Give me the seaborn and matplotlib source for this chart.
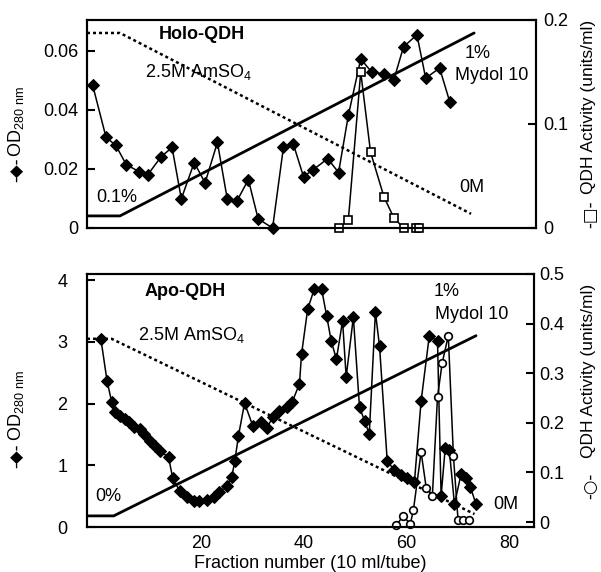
import matplotlib
matplotlib.use("Agg")
import matplotlib.pyplot as plt
import seaborn as sns

# Holo-QDH panel: OD280 (diamonds) and activity (squares)
holo_frac = [-1.2, 1.4, 3.3, 5.3, 7.8, 9.5, 12.1, 14.2, 16.0, 18.5,
             20.6, 23.0, 24.9, 26.8, 29.0, 30.9, 33.7, 35.8, 37.7, 39.7,
             41.6, 44.4, 46.5, 48.4, 50.8, 52.9, 55.3, 57.2, 59.1, 61.7,
             63.4, 66.1, 68.1]
holo_od = [0.0484, 0.0307, 0.0280, 0.0215, 0.0191, 0.0181, 0.0242, 0.0273, 0.0099, 0.0222,
           0.0153, 0.0290, 0.0099, 0.0092, 0.0164, 0.0031, 0.0, 0.0273, 0.0286, 0.0174,
           0.0198, 0.0235, 0.0188, 0.0382, 0.0573, 0.0529, 0.0522, 0.0501, 0.0614, 0.0655,
           0.0508, 0.0542, 0.0426]
holo_act_frac = [46.5, 48.4, 50.8, 52.7, 55.3, 57.2, 59.1, 61.5, 62.1]
holo_act = [0.0, 0.008, 0.150, 0.073, 0.030, 0.010, 0.0, 0.0, 0.0]

# gradients (top)
mydol_top_x = [-2.3, 4.1, 72.8]
mydol_top = [0.0041, 0.0041, 0.0661]
salt_top_x = [-2.3, 4.1, 72.2]
salt_top = [0.0661, 0.0661, 0.0048]

# Apo-QDH panel: OD280 (diamonds) and activity (circles)
apo_frac = [0.4, 1.6, 2.5, 3.1, 4.1, 5.1, 5.8, 6.8, 8.0, 8.9,
            9.9, 10.9, 11.9, 13.6, 14.4, 15.8, 17.1, 18.5, 19.6, 21.0,
            22.4, 23.5, 24.9, 25.9, 26.5, 27.2, 28.4, 30.0, 31.7, 32.7,
            33.9, 35.2, 36.6, 37.7, 39.1, 39.5, 40.7, 42.0, 43.4, 44.4,
            45.3, 46.3, 47.5, 48.2, 49.6, 50.8, 51.8, 52.7, 53.9, 54.7,
            56.2, 57.6, 58.8, 60.1, 61.5, 62.8, 64.4, 66.0, 66.7, 67.5,
            68.3, 69.3, 70.6, 71.6, 72.4, 73.5]
apo_od = [3.05, 2.37, 2.03, 1.86, 1.80, 1.75, 1.70, 1.62, 1.59, 1.51,
          1.39, 1.31, 1.23, 1.13, 0.79, 0.58, 0.49, 0.42, 0.42, 0.44,
          0.49, 0.57, 0.66, 0.81, 1.07, 1.47, 2.01, 1.64, 1.70, 1.60,
          1.78, 1.88, 1.94, 2.03, 2.32, 2.80, 3.53, 3.86, 3.86, 3.42,
          3.01, 2.72, 3.34, 2.43, 3.40, 1.94, 1.72, 1.51, 3.48, 2.93,
          1.07, 0.92, 0.84, 0.79, 0.73, 2.04, 3.10, 3.01, 0.50, 1.28,
          1.25, 0.37, 0.86, 0.79, 0.65, 0.37]
apo_act_frac = [58.0, 59.3, 60.7, 61.3, 62.8, 63.8, 65.0, 66.0, 66.9, 68.1,
                69.1, 70.0, 71.0, 72.2]
apo_act = [-0.006, 0.012, -0.004, 0.024, 0.141, 0.069, 0.053, 0.253, 0.320, 0.376,
           0.133, 0.004, 0.004, 0.004]

# gradients (bottom)
mydol_bot_x = [-2.3, 2.9, 73.5]
mydol_bot = [0.18, 0.18, 3.10]
salt_bot_x = [-2.3, 2.5, 73.2]
salt_bot = [3.05, 3.05, 0.21]

x_ticks = [20, 40, 60, 80]

sns.set_style("white")
plt.rcParams['font.family'] = ['Liberation Sans', 'DejaVu Sans']
plt.rcParams['mathtext.fontset'] = 'custom'
plt.rcParams['mathtext.rm'] = 'Liberation Sans'
for key in ('text.color', 'axes.labelcolor', 'xtick.color', 'ytick.color'):
    plt.rcParams[key] = 'black'

FS = 13
W, H = 601, 572
fig = plt.figure(figsize=(6.01, 5.72), dpi=100)
ax1 = fig.add_axes([87 / W, 1 - 228 / H, 449 / W, 208 / H])
ax2 = fig.add_axes([87 / W, 1 - 527 / H, 447 / W, 253 / H])

line_kw = dict(color='black', lw=1.1, sort=False, estimator=None)
grad_solid = dict(color='black', lw=2.0, sort=False, estimator=None)
grad_dot = dict(color='black', lw=1.8, sort=False, estimator=None, linestyle=(0, (1.2, 1.2)))

# ---- top panel ----
ax1r = ax1.twinx()
sns.lineplot(x=mydol_top_x, y=mydol_top, ax=ax1, **grad_solid)
sns.lineplot(x=salt_top_x, y=salt_top, ax=ax1, **grad_dot)
sns.lineplot(x=holo_frac, y=holo_od, ax=ax1, marker='D', markersize=6.5,
             markeredgecolor='black', markerfacecolor='black', clip_on=False, **line_kw)
sns.lineplot(x=holo_act_frac, y=holo_act, ax=ax1r, marker='s', markersize=6,
             markeredgecolor='black', markerfacecolor='white', markeredgewidth=1.2,
             clip_on=False, **line_kw)

ax1.set_xlim(-2.3, 84.8)
ax1.set_ylim(0, 0.0705)
ax1r.set_ylim(0, 0.2)
ax1.set_xticks(x_ticks)
ax1.set_yticks([0, 0.02, 0.04, 0.06])
ax1.set_yticklabels(['0', '0.02', '0.04', '0.06'])
ax1r.set_yticks([0, 0.1, 0.2])
ax1r.set_yticklabels(['0', '0.1', '0.2'])
ax1.tick_params(axis='x', direction='in', length=6, width=1.5, labelbottom=False)
ax1.tick_params(axis='y', direction='in', length=6, width=1.5, labelsize=FS, pad=6)
ax1r.tick_params(axis='y', direction='in', length=6, width=1.5, labelsize=FS, pad=5)
ax1.set_ylabel("OD$_{\\mathregular{280\\ nm}}$", fontsize=FS)
ax1.yaxis.set_label_coords(-0.136, 0.514)
ax1r.set_ylabel("QDH Activity (units/ml)", fontsize=12.5)
ax1r.yaxis.set_label_coords(1.10, 0.58)

ax1.text(20, 0.0655, "Holo-QDH", fontsize=13, fontweight='bold', ha='center', va='center')
ax1.text(19.3, 0.0528, "2.5M AmSO$_{\\mathregular{4}}$", fontsize=FS, ha='center', va='center')
ax1.text(3.5, 0.0102, "0.1%", fontsize=FS, ha='center', va='center')
ax1.text(73.5, 0.0593, "1%", fontsize=FS, ha='center', va='center')
ax1.text(76.3, 0.0518, "Mydol 10", fontsize=FS, ha='center', va='center')
ax1.text(72.4, 0.0136, "0M", fontsize=FS, ha='center', va='center')

# ---- bottom panel ----
ax2r = ax2.twinx()
sns.lineplot(x=mydol_bot_x, y=mydol_bot, ax=ax2, **grad_solid)
sns.lineplot(x=salt_bot_x, y=salt_bot, ax=ax2, **grad_dot)
sns.lineplot(x=apo_frac, y=apo_od, ax=ax2, marker='D', markersize=6.5,
             markeredgecolor='black', markerfacecolor='black', clip_on=False, **line_kw)
sns.lineplot(x=apo_act_frac, y=apo_act, ax=ax2r, marker='o', markersize=5.5,
             markeredgecolor='black', markerfacecolor='white', markeredgewidth=1.2,
             clip_on=False, **line_kw)

ax2.set_xlim(-2.3, 84.8)
ax2.set_ylim(0, 4.1)
ax2r.set_ylim(-0.01, 0.5)
ax2.set_xticks(x_ticks)
ax2.set_yticks([0, 1, 2, 3, 4])
ax2r.set_yticks([0, 0.1, 0.2, 0.3, 0.4, 0.5])
ax2r.set_yticklabels(['0', '0.1', '0.2', '0.3', '0.4', '0.5'])
ax2.tick_params(axis='x', direction='in', length=0, labelsize=FS, pad=6)
ax2.tick_params(axis='y', direction='in', length=6, width=1.5, labelsize=FS, pad=14)
ax2r.tick_params(axis='y', direction='in', length=6, width=1.5, labelsize=FS, pad=4)
ax2.set_xlabel("Fraction number (10 ml/tube)", fontsize=FS, labelpad=2)
ax2.set_ylabel("OD$_{\\mathregular{280\\ nm}}$", fontsize=FS)
ax2.yaxis.set_label_coords(-0.136, 0.482)
ax2r.set_ylabel("QDH Activity (units/ml)", fontsize=12.5)
ax2r.yaxis.set_label_coords(1.105, 0.617)

ax2.text(16.9, 3.81, "Apo-QDH", fontsize=13, fontweight='bold', ha='center', va='center')
ax2.text(18.1, 3.11, "2.5M AmSO$_{\\mathregular{4}}$", fontsize=FS, ha='center', va='center')
ax2.text(1.8, 0.49, "0%", fontsize=FS, ha='center', va='center')
ax2.text(67.7, 3.81, "1%", fontsize=FS, ha='center', va='center')
ax2.text(72.6, 3.44, "Mydol 10", fontsize=FS, ha='center', va='center')
ax2.text(79.4, 0.36, "0M", fontsize=FS, ha='center', va='center')

# legend-style marker keys next to the axis labels
sym_kw = dict(rotation=90, ha='center', va='center', fontsize=12, family='DejaVu Sans')
fig.text(17 / W, 1 - 170 / H, "-◆-", **sym_kw)
fig.text(17 / W, 1 - 456 / H, "-◆-", **sym_kw)
fig.text(590 / W, 1 - 214 / H, "-□-", **sym_kw)
fig.text(590 / W, 1 - 486 / H, "-○-", **sym_kw)

for ax in (ax1, ax1r, ax2, ax2r):
    for sp in ax.spines.values():
        sp.set_visible(True)
        sp.set_linewidth(1.5)
        sp.set_color('black')

fig.savefig("out.png", dpi=100, facecolor='white')
